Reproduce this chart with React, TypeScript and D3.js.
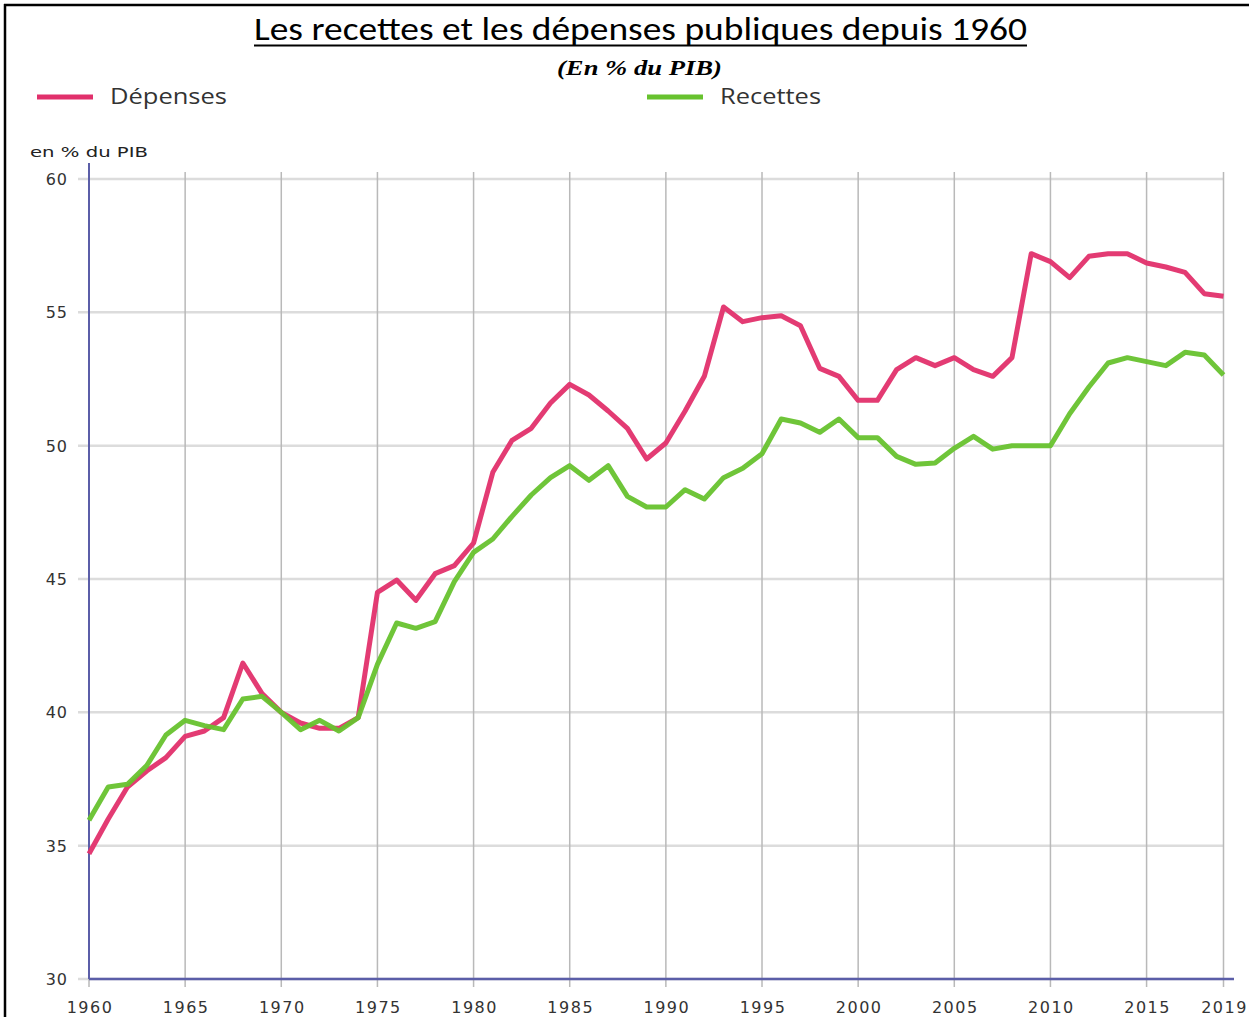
import React from "react";
import * as d3 from "d3";

const years: number[] = d3.range(1960, 2020);
const depenses: number[] = [
  34.7, 36.0, 37.2, 37.8, 38.3, 39.1, 39.3, 39.8, 41.85, 40.7,
  40.0, 39.6, 39.4, 39.4, 39.8, 44.5, 44.96, 44.2, 45.2, 45.5,
  46.35, 49.0, 50.2, 50.65, 51.6, 52.3, 51.9, 51.3, 50.65, 49.5,
  50.1, 51.3, 52.6, 55.2, 54.65, 54.8, 54.87, 54.5, 52.9, 52.6,
  51.7, 51.7, 52.85, 53.3, 53.0, 53.3, 52.85, 52.6, 53.3, 57.2,
  56.9, 56.3, 57.1, 57.2, 57.2, 56.85, 56.7, 56.5, 55.7, 55.6,
];
const recettes: number[] = [
  35.95, 37.2, 37.3, 38.0, 39.15, 39.7, 39.5, 39.35, 40.5, 40.6,
  40.0, 39.35, 39.7, 39.3, 39.8, 41.8, 43.35, 43.15, 43.4, 44.9,
  46.0, 46.5, 47.35, 48.15, 48.8, 49.25, 48.7, 49.25, 48.1, 47.7,
  47.7, 48.35, 48.0, 48.8, 49.15, 49.7, 51.0, 50.85, 50.5, 51.0,
  50.3, 50.3, 49.6, 49.3, 49.35, 49.9, 50.35, 49.87, 50.0, 50.0,
  50.0, 51.2, 52.2, 53.1, 53.3, 53.15, 53.0, 53.5, 53.4, 52.65,
];
const xTicks: number[] = [1960, 1965, 1970, 1975, 1980, 1985, 1990, 1995, 2000, 2005, 2010, 2015, 2019];
const yTicks: number[] = [30, 35, 40, 45, 50, 55, 60];
const seriesNames: string[] = ["Dépenses", "Recettes"];

const PINK = "#e1306c";
const GREEN = "#67c22e";
const AXIS = "#5b5ea8";

export default function App() {
  const x = d3.scaleLinear().domain([1960, 2019]).range([89, 1223.5]);
  const y = d3.scaleLinear().domain([30, 60]).range([979, 179]);
  const line = d3
    .line<number>()
    .x((_, i) => x(years[i]))
    .y((d) => y(d));

  const labelFont = "'DejaVu Sans', sans-serif";

  return (
    <svg
      width={1249}
      height={1017}
      style={{ position: "absolute", left: 0, top: 0, background: "#fff" }}
    >
      <rect x={0} y={0} width={1249} height={1017} fill="#fff" />
      {/* frame */}
      <line x1={4} y1={5} x2={1249} y2={5} stroke="#000" strokeWidth={2.5} />
      <line x1={5} y1={4} x2={5} y2={1017} stroke="#000" strokeWidth={2.5} />

      {/* title */}
      <text
        x={254}
        y={40}
        fontFamily="Carlito, 'Open Sans', 'Liberation Sans', sans-serif"
        fontSize={32}
        fill="#000"
        textLength={773}
        lengthAdjust="spacingAndGlyphs"
      >
        Les recettes et les dépenses publiques depuis 1960
      </text>
      <line x1={254} y1={45.5} x2={1027} y2={45.5} stroke="#000" strokeWidth={2} />
      <text
        x={557}
        y={75}
        fontFamily="'Liberation Serif', 'DejaVu Serif', serif"
        fontStyle="italic"
        fontWeight="bold"
        fontSize={21}
        fill="#000"
        textLength={165}
        lengthAdjust="spacingAndGlyphs"
      >
        (En % du PIB)
      </text>

      {/* legend */}
      <line x1={37} y1={97} x2={93} y2={97} stroke={PINK} strokeWidth={5} />
      <text x={110} y={104} fontFamily="'Open Sans', sans-serif" fontSize={21} fill="#333"
        textLength={117} lengthAdjust="spacingAndGlyphs">
        {seriesNames[0]}
      </text>
      <line x1={647} y1={97} x2={703} y2={97} stroke={GREEN} strokeWidth={5} />
      <text x={720} y={104} fontFamily="'Open Sans', sans-serif" fontSize={21} fill="#333"
        textLength={101} lengthAdjust="spacingAndGlyphs">
        {seriesNames[1]}
      </text>

      {/* axis title */}
      <text x={30} y={157} fontFamily={labelFont} fontSize={14} fill="#222"
        textLength={118} lengthAdjust="spacingAndGlyphs">
        en % du PIB
      </text>

      {/* horizontal grid */}
      {yTicks.map((t) => (
        <line key={"h" + t} x1={78} x2={1224} y1={y(t)} y2={y(t)} stroke="#dcdcdc" strokeWidth={2.5} />
      ))}
      {/* vertical grid */}
      {xTicks.map((t) => (
        <line key={"v" + t} x1={x(t)} x2={x(t)} y1={172} y2={987} stroke="#b9b9b9" strokeWidth={1.5} />
      ))}

      {/* axes */}
      <line x1={89} x2={89} y1={163} y2={979} stroke={AXIS} strokeWidth={2} />
      <line x1={89} x2={1234} y1={979} y2={979} stroke={AXIS} strokeWidth={2.5} />

      {/* y tick labels */}
      {yTicks.map((t) => (
        <text key={"yl" + t} x={68} y={y(t) + 6} textAnchor="end" fontFamily={labelFont}
          fontSize={16} letterSpacing={1} fill="#333">
          {t}
        </text>
      ))}
      {/* x tick labels */}
      {xTicks.map((t) => (
        <text key={"xl" + t} x={x(t) + 1} y={1013} textAnchor="middle" fontFamily={labelFont}
          fontSize={16} letterSpacing={1.5} fill="#333">
          {t}
        </text>
      ))}

      {/* series */}
      <path d={line(depenses) || ""} fill="none" stroke={PINK} strokeWidth={5} strokeLinejoin="round" strokeOpacity={0.95} />
      <path d={line(recettes) || ""} fill="none" stroke={GREEN} strokeWidth={5} strokeLinejoin="round" strokeOpacity={0.95} />
    </svg>
  );
}
